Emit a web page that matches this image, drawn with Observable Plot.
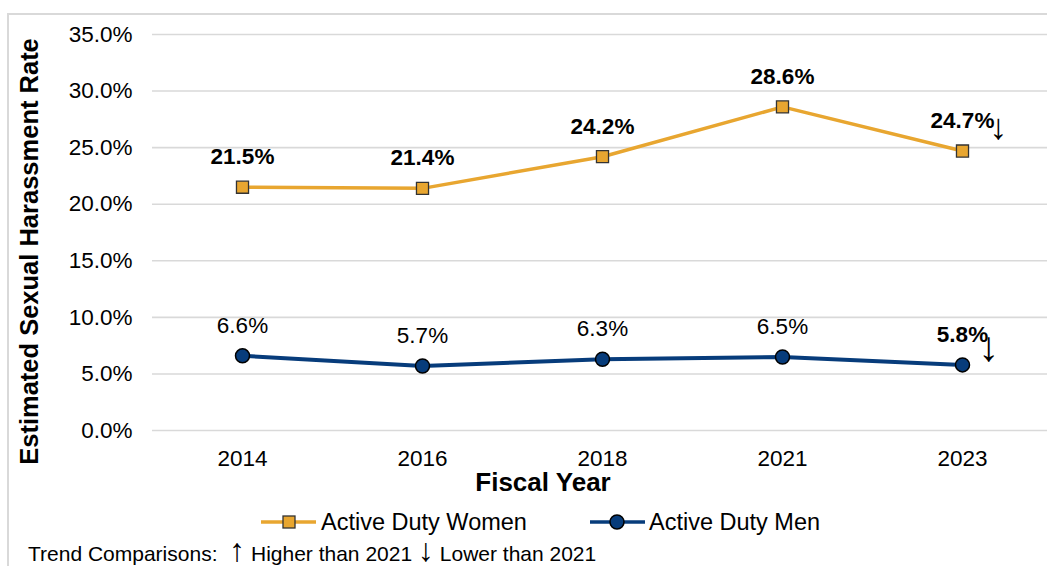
<!DOCTYPE html>
<html>
<head>
<meta charset="utf-8">
<script src="https://cdn.jsdelivr.net/npm/d3@7"></script>
<script src="https://cdn.jsdelivr.net/npm/@observablehq/plot@0.6"></script>
<style>
  html, body { margin: 0; padding: 0; width: 1047px; height: 566px; overflow: hidden; background: #fff; }
  body { position: relative; font-family: "Liberation Sans", Arial, sans-serif; color: #000; }
  #frame { position: absolute; left: 7px; top: 13px; width: 1100px; height: 600px; border: 2px solid #d9d9d9; box-sizing: border-box; }
  #chart { position: absolute; left: 0; top: 0; }
  #chart svg { overflow: visible; }
  .legend { position: absolute; top: 508px; height: 28px; display: flex; align-items: center; font-size: 23.5px; white-space: nowrap; }
  .legend svg { display: block; }
  #caption { position: absolute; left: 28px; top: 540px; font-size: 21px; white-space: nowrap; line-height: 24px; height: 26px; }
  #caption .arr { font-size: 32px; line-height: 20px; }
</style>
</head>
<body>
<div id="frame"></div>
<div id="chart"></div>
<div class="legend" style="left:261px"><svg width="56" height="28" id="legW"></svg><span style="margin-left:4px">Active Duty Women</span></div>
<div class="legend" style="left:590px"><svg width="56" height="28" id="legM"></svg><span style="margin-left:3px">Active Duty Men</span></div>
<div id="caption">Trend Comparisons:&nbsp; <span class="arr">↑</span> Higher than 2021 <span class="arr">↓</span> Lower than 2021</div>
<script>
// ---- data ----
const years = ["2014", "2016", "2018", "2021", "2023"];
const womenRates = [21.5, 21.4, 24.2, 28.6, 24.7];
const menRates = [6.6, 5.7, 6.3, 6.5, 5.8];
const womenBold = [true, true, true, true, true];
const menBold = [false, false, false, false, true];
const womenTrend = ["", "", "", "", "↓"];
const menTrend = ["", "", "", "", "↓"];
const yTicks = [0, 5, 10, 15, 20, 25, 30, 35];
const seriesNames = ["Active Duty Women", "Active Duty Men"];

// ---- styles ----
const womenColor = "#E8A630";
const menColor = "#073C7B";
const font = '"Liberation Sans", Arial, sans-serif';

const women = years.map((year, i) => ({year, value: womenRates[i], bold: womenBold[i], trend: womenTrend[i]}));
const men = years.map((year, i) => ({year, value: menRates[i], bold: menBold[i], trend: menTrend[i]}));
const fmt = v => v.toFixed(1) + "%";

const plot = Plot.plot({
  width: 1047,
  height: 500,
  marginTop: 34,
  marginBottom: 70,
  marginLeft: 152,
  marginRight: 0,
  style: {fontFamily: font, color: "#000", background: "transparent"},
  x: {type: "point", domain: years, range: [152, 1052], padding: 0.5, axis: null},
  y: {domain: [0, 35], axis: null},
  marks: [
    Plot.gridY(yTicks, {stroke: "#d9d9d9", strokeOpacity: 1, strokeWidth: 1.6}),
    Plot.axisY(yTicks, {tickSize: 0, tickPadding: 20, tickFormat: fmt, fontSize: 22.5, label: null}),
    Plot.axisX(years, {tickSize: 0, tickPadding: 20, fontSize: 22.5, label: null}),
    Plot.text(["Estimated Sexual Harassment Rate"], {frameAnchor: "left", textAnchor: "middle", rotate: -90, dx: -115, dy: 19, lineAnchor: "bottom", fontSize: 25.5, fontWeight: "bold"}),
    Plot.text(["Fiscal Year"], {frameAnchor: "bottom", textAnchor: "middle", dx: -57, dy: 60, lineAnchor: "bottom", fontSize: 26, fontWeight: "bold"}),
    // lines
    Plot.line(women, {x: "year", y: "value", stroke: womenColor, strokeWidth: 3.5}),
    Plot.line(men, {x: "year", y: "value", stroke: menColor, strokeWidth: 4}),
    // markers
    Plot.dot(women, {x: "year", y: "value", symbol: "square", r: 6.8, fill: womenColor, stroke: "#333", strokeWidth: 1.3}),
    Plot.dot(men, {x: "year", y: "value", symbol: "circle", r: 7, fill: menColor, stroke: "#000", strokeWidth: 1.5}),
    // value labels
    Plot.text(women.filter(d => d.bold), {x: "year", y: "value", text: d => fmt(d.value), dy: -23, lineAnchor: "bottom", fontSize: 22.5, fontWeight: "bold"}),
    Plot.text(men.filter(d => d.bold), {x: "year", y: "value", text: d => fmt(d.value), dy: -23, lineAnchor: "bottom", fontSize: 22.5, fontWeight: "bold"}),
    Plot.text(men.filter(d => !d.bold), {x: "year", y: "value", text: d => fmt(d.value), dy: -23, lineAnchor: "bottom", fontSize: 22.5}),
    // trend arrows
    Plot.text(women.filter(d => d.trend), {x: "year", y: "value", text: "trend", dx: 36, dy: -12, lineAnchor: "bottom", fontSize: 36}),
    Plot.text(men.filter(d => d.trend), {x: "year", y: "value", text: "trend", dx: 26, dy: -4, lineAnchor: "bottom", fontSize: 42})
  ]
});
document.getElementById("chart").appendChild(plot);

// legend symbols
function legendSymbol(id, color, shape) {
  const svg = d3.select("#" + id);
  svg.append("line").attr("x1", 0).attr("x2", 55).attr("y1", 14).attr("y2", 14)
    .attr("stroke", color).attr("stroke-width", 3.5);
  if (shape === "square") {
    svg.append("rect").attr("x", 22).attr("y", 8).attr("width", 12).attr("height", 12)
      .attr("fill", color).attr("stroke", "#333").attr("stroke-width", 1.3);
  } else {
    svg.append("circle").attr("cx", 27).attr("cy", 14).attr("r", 7)
      .attr("fill", color).attr("stroke", "#000").attr("stroke-width", 1.5);
  }
}
legendSymbol("legW", womenColor, "square");
legendSymbol("legM", menColor, "circle");
</script>
</body>
</html>
